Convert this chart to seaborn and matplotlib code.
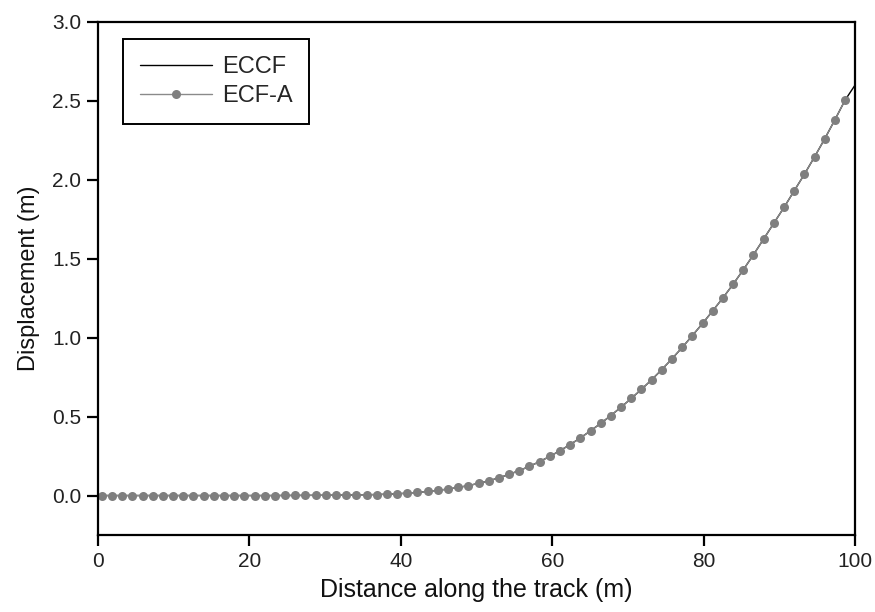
import numpy as np
import pandas as pd
import matplotlib
matplotlib.use("Agg")
import matplotlib.pyplot as plt
import seaborn as sns

# ---- data ----
ecfa_x = [0.50, 1.85, 3.19, 4.54, 5.88, 7.23, 8.57, 9.92, 11.26, 12.61,
          13.95, 15.30, 16.64, 17.99, 19.33, 20.68, 22.02, 23.37, 24.71, 26.06,
          27.40, 28.75, 30.09, 31.44, 32.78, 34.13, 35.47, 36.82, 38.16, 39.51,
          40.85, 42.20, 43.54, 44.89, 46.23, 47.58, 48.92, 50.27, 51.61, 52.96,
          54.30, 55.65, 56.99, 58.34, 59.68, 61.03, 62.37, 63.72, 65.06, 66.41,
          67.75, 69.10, 70.44, 71.79, 73.13, 74.48, 75.82, 77.17, 78.51, 79.86,
          81.20, 82.55, 83.89, 85.24, 86.58, 87.93, 89.27, 90.62, 91.96, 93.31,
          94.65, 96.00, 97.34, 98.69]
ecfa_y = [0.0, 0.0, 0.0, 0.0, 0.0, 0.0, 0.0, 0.0, 0.0, 0.0,
          0.0, 0.0, 0.0, 0.0, 0.0, 0.0, 0.0, 0.0, 0.0005, 0.0007,
          0.001, 0.0013, 0.0017, 0.0022, 0.003, 0.004, 0.005, 0.0065, 0.008, 0.011,
          0.015, 0.020, 0.026, 0.033, 0.041, 0.051, 0.063, 0.077, 0.093, 0.112,
          0.134, 0.158, 0.185, 0.215, 0.248, 0.284, 0.323, 0.365, 0.410, 0.457,
          0.507, 0.560, 0.615, 0.673, 0.733, 0.798, 0.866, 0.938, 1.013, 1.090,
          1.170, 1.252, 1.338, 1.430, 1.525, 1.625, 1.725, 1.825, 1.930, 2.035,
          2.145, 2.260, 2.380, 2.505]

eccf_x = [0.0] + ecfa_x + [100.0]
eccf_y = [0.0] + ecfa_y + [2.60]

x_ticks = [0, 20, 40, 60, 80, 100]
y_ticks = [0.0, 0.5, 1.0, 1.5, 2.0, 2.5, 3.0]

df_eccf = pd.DataFrame({"x": eccf_x, "y": eccf_y})
df_ecfa = pd.DataFrame({"x": ecfa_x, "y": ecfa_y})

sns.set_theme(style="ticks")
plt.rcParams["font.family"] = ["Liberation Sans", "DejaVu Sans"]

fig = plt.figure(figsize=(8.75, 6.12), dpi=100)
ax = fig.add_axes([98 / 875, 1 - 535 / 612, (855 - 98) / 875, (535 - 22) / 612])

sns.lineplot(data=df_eccf, x="x", y="y", ax=ax, color="black", linewidth=1.0,
             label="ECCF", sort=False)
sns.lineplot(data=df_ecfa, x="x", y="y", ax=ax, color="#8a8a8a", linewidth=1.0,
             marker="o", markersize=6.5, markeredgewidth=0, markerfacecolor="#7f7f7f",
             label="ECF-A", sort=False)

ax.set_xlim(0, 100)
ax.set_ylim(-0.25, 3.0)
ax.set_xticks(x_ticks)
ax.set_xticklabels([str(t) for t in x_ticks])
ax.set_yticks(y_ticks)
ax.set_yticklabels([f"{t:.1f}" for t in y_ticks])

for s in ax.spines.values():
    s.set_visible(True)
    s.set_linewidth(1.6)
    s.set_color("black")

ax.tick_params(axis="both", which="major", direction="out", length=8, width=1.6,
               labelsize=15, colors="black", labelcolor="#222222")
ax.tick_params(axis="y", pad=4)
ax.tick_params(axis="x", pad=4)
ax.set_xlabel("Distance along the track (m)", fontsize=18, labelpad=5, color="#111111")
ax.set_ylabel("Displacement (m)", fontsize=17, labelpad=9, color="#111111")

leg = ax.legend(loc="upper left", bbox_to_anchor=(0.033, 0.966), fontsize=17,
                frameon=True, fancybox=False, shadow=False, handlelength=3.05,
                handletextpad=0.45, borderpad=0.7, labelspacing=0.3,
                borderaxespad=0.0)
leg.get_frame().set_edgecolor("black")
leg.get_frame().set_linewidth(1.4)
leg.get_frame().set_facecolor("white")
leg.get_frame().set_alpha(1.0)

fig.savefig("out.png", dpi=100, facecolor="white")
